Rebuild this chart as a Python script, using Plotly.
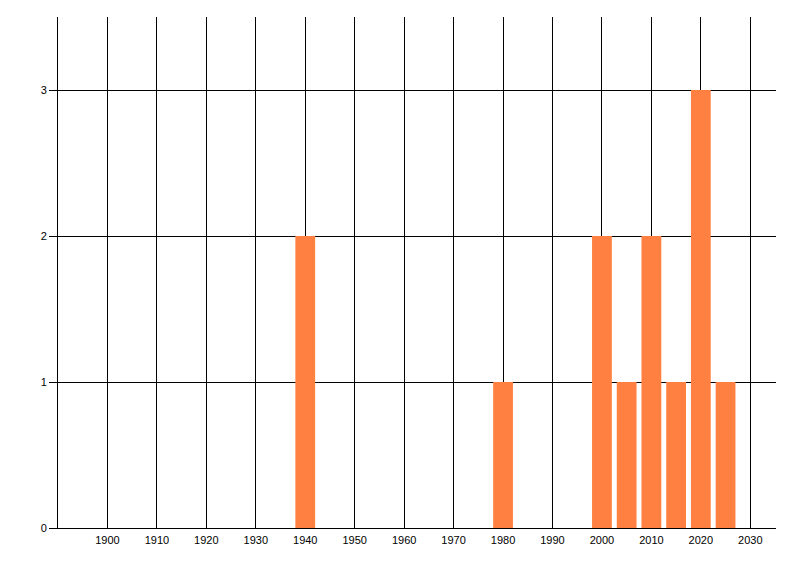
import plotly.graph_objects as go

# Counts per year
years = [1940, 1980, 2000, 2005, 2010, 2015, 2020, 2025]
counts = [2, 1, 2, 1, 2, 1, 3, 1]

x_ticks = list(range(1900, 2031, 10))
y_ticks = [0, 1, 2, 3]

fig = go.Figure()
fig.add_trace(go.Bar(
    x=years,
    y=counts,
    width=4,
    marker=dict(color='#FF8040', line=dict(width=0)),
))

# page body adds an 8px offset, so margins are shifted to compensate
fig.update_layout(
    width=800,
    height=576,
    margin=dict(l=49.5, r=32, t=9, b=56),
    paper_bgcolor='white',
    plot_bgcolor='white',
    showlegend=False,
    font=dict(family='Liberation Sans, Arial, sans-serif', size=11, color='#000000'),
)

fig.update_xaxes(
    range=[1890, 2035.2],
    tickvals=x_ticks,
    ticktext=[str(v) for v in x_ticks],
    showgrid=True,
    gridcolor='black',
    gridwidth=1,
    showline=True,
    linecolor='black',
    linewidth=1,
    ticks='outside',
    ticklen=2,
    tickcolor='rgba(0,0,0,0)',
    zeroline=False,
)

fig.update_yaxes(
    range=[0, 3.5],
    tickvals=y_ticks,
    showgrid=True,
    gridcolor='black',
    gridwidth=1,
    showline=True,
    linecolor='black',
    linewidth=1,
    ticks='outside',
    ticklen=8,
    tickcolor='black',
    zeroline=False,
)

fig.write_html("out.html")
